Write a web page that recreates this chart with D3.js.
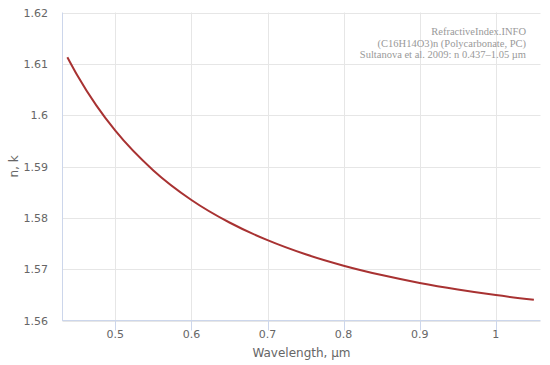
<!DOCTYPE html>
<html>
<head>
<meta charset="utf-8">
<script src="https://cdn.jsdelivr.net/npm/d3@7"></script>
<style>
  body { margin: 0; background: #fff; }
  svg { display: block; font-family: "DejaVu Sans", sans-serif; }
</style>
</head>
<body>
<div id="chart"></div>
<script>
// wavelength (µm) and refractive index n
const wavelengths = [0.437, 0.45, 0.475, 0.5, 0.55, 0.6, 0.65, 0.7, 0.75, 0.8, 0.85, 0.9, 0.95, 1.0, 1.05];
const nValues = [1.61130, 1.60778, 1.60190, 1.59697, 1.58923, 1.58348, 1.57909, 1.57565, 1.57290, 1.57068, 1.56885, 1.56732, 1.56604, 1.56495, 1.56402];
const xTicks = [0.5, 0.6, 0.7, 0.8, 0.9, 1];
const yTicks = [1.56, 1.57, 1.58, 1.59, 1.6, 1.61, 1.62];
const creditLines = [
    "RefractiveIndex.INFO",
    "(C16H14O3)n (Polycarbonate, PC)",
    "Sultanova et al. 2009: n 0.437\u20131.05 \u00b5m"
];

const width = 550, height = 365;
const margin = {top: 12.5, right: 9.5, bottom: 44.5, left: 62.5};
const data = wavelengths.map((w, i) => ({w: w, n: nValues[i]}));

const svg = d3.select("#chart")
    .append("svg")
    .attr("width", width)
    .attr("height", height);

const xScale = d3.scaleLinear().domain([0.4306, 1.0587]).range([margin.left, width - margin.right]);
const yScale = d3.scaleLinear().domain([1.56, 1.62]).range([height - margin.bottom, margin.top]);

// grid
svg.selectAll(".vgrid")
    .data(xTicks)
    .enter().append("line")
    .attr("class", "vgrid")
    .attr("x1", d => Math.round(xScale(d)) + 0.5)
    .attr("x2", d => Math.round(xScale(d)) + 0.5)
    .attr("y1", margin.top)
    .attr("y2", height - margin.bottom)
    .attr("stroke", "#e6e6e6");

svg.selectAll(".hgrid")
    .data(yTicks)
    .enter().append("line")
    .attr("class", "hgrid")
    .attr("x1", margin.left)
    .attr("x2", width - margin.right)
    .attr("y1", d => Math.round(yScale(d)) + 0.5)
    .attr("y2", d => Math.round(yScale(d)) + 0.5)
    .attr("stroke", "#e6e6e6");

// axis lines
svg.append("line")
    .attr("x1", margin.left).attr("x2", margin.left)
    .attr("y1", margin.top).attr("y2", height - margin.bottom + 0.5)
    .attr("stroke", "#ccd6eb");
svg.append("line")
    .attr("x1", margin.left).attr("x2", width - margin.right)
    .attr("y1", height - margin.bottom).attr("y2", height - margin.bottom)
    .attr("stroke", "#ccd6eb");

// x tick marks and labels
svg.selectAll(".xtick")
    .data(xTicks)
    .enter().append("line")
    .attr("class", "xtick")
    .attr("x1", d => Math.round(xScale(d)) + 0.5)
    .attr("x2", d => Math.round(xScale(d)) + 0.5)
    .attr("y1", height - margin.bottom)
    .attr("y2", height - margin.bottom + 10)
    .attr("stroke", "#ccd6eb");

svg.selectAll(".xlabel")
    .data(xTicks)
    .enter().append("text")
    .attr("class", "xlabel")
    .attr("x", d => xScale(d))
    .attr("y", height - margin.bottom + 17)
    .attr("text-anchor", "middle")
    .attr("font-size", "11px")
    .attr("fill", "#666")
    .text(d => d3.format("~g")(d));

svg.selectAll(".ylabel")
    .data(yTicks)
    .enter().append("text")
    .attr("class", "ylabel")
    .attr("x", 48)
    .attr("y", d => yScale(d) + 4)
    .attr("text-anchor", "end")
    .attr("font-size", "11px")
    .attr("fill", "#666")
    .text(d => d3.format("~g")(d));

// axis titles
svg.append("text")
    .attr("x", (margin.left + width - margin.right) / 2)
    .attr("y", 357)
    .attr("text-anchor", "middle")
    .attr("font-size", "12px")
    .attr("fill", "#666")
    .text("Wavelength, \u00b5m");

svg.append("text")
    .attr("transform", `translate(18, ${(margin.top + height - margin.bottom) / 2}) rotate(-90)`)
    .attr("text-anchor", "middle")
    .attr("font-size", "12px")
    .attr("fill", "#666")
    .text("n, k");

// credits
svg.selectAll(".credit")
    .data(creditLines)
    .enter().append("text")
    .attr("class", "credit")
    .attr("x", 526)
    .attr("y", (d, i) => 35 + i * 11.5)
    .attr("text-anchor", "end")
    .attr("font-family", "'Liberation Serif', serif")
    .attr("font-size", "10.5px")
    .attr("fill", "#999")
    .text(d => d);

// n curve
svg.append("path")
    .datum(data)
    .attr("fill", "none")
    .attr("stroke", "#a83232")
    .attr("stroke-width", 2)
    .attr("d", d3.line()
        .curve(d3.curveMonotoneX)
        .x(d => xScale(d.w))
        .y(d => yScale(d.n))
    );
</script>
</body>
</html>
